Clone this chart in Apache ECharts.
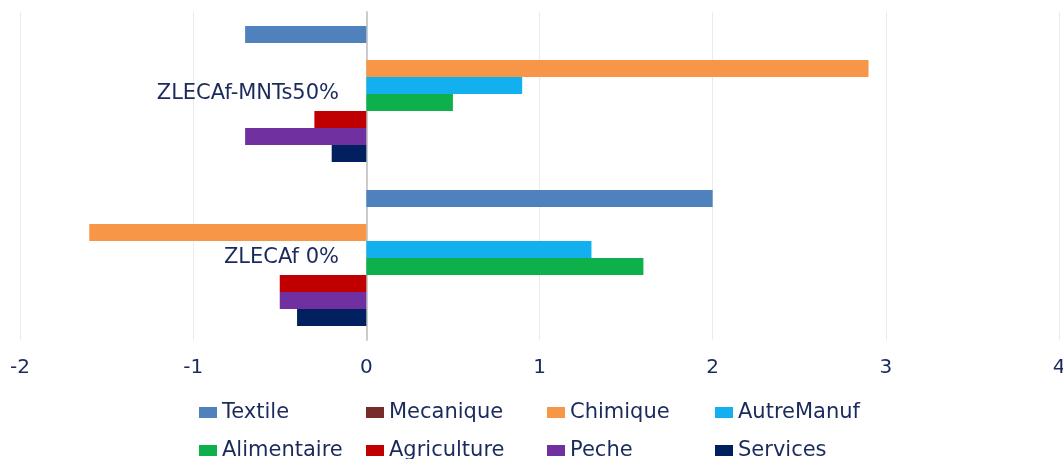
<!DOCTYPE html>
<html>
<head>
<meta charset="utf-8">
<script src="https://cdn.jsdelivr.net/npm/echarts@6/dist/echarts.min.js"></script>
<style>
html,body{margin:0;padding:0;background:#fff;}
#chart{width:1063px;height:459px;}
</style>
</head>
<body>
<div id="chart"></div>
<script>
// Categories (bottom to top, as ECharts category y axis draws them)
const categories = ['ZLECAf 0%', 'ZLECAf-MNTs50%'];
const seriesNames = ['Textile', 'Mecanique', 'Chimique', 'AutreManuf', 'Alimentaire', 'Agriculture', 'Peche', 'Services'];
// Values per series: [ZLECAf 0%, ZLECAf-MNTs50%]
const textile     = [2.0, -0.7];
const mecanique   = [0.0, 0.0];
const chimique    = [-1.6, 2.9];
const autreManuf  = [1.3, 0.9];
const alimentaire = [1.6, 0.5];
const agriculture = [-0.5, -0.3];
const peche       = [-0.5, -0.7];
const services    = [-0.4, -0.2];
const seriesValues = [textile, mecanique, chimique, autreManuf, alimentaire, agriculture, peche, services];
const colors = ['#4F81BD', '#772C2A', '#F79646', '#12B0EE', '#0DB04B', '#C00000', '#7030A0', '#002060'];
const xTicks = [-2, -1, 0, 1, 2, 3, 4];

const textColor = '#1B2A5C';
const fontFamily = '"DejaVu Sans", sans-serif';

const chart = echarts.init(document.getElementById('chart'), null, {renderer: 'canvas'});

const legendCols = [199, 366, 547, 715];
const legendRows = [402, 440];
const legends = seriesNames.map((name, i) => ({
  orient: 'horizontal',
  left: legendCols[i % 4],
  top: legendRows[Math.floor(i / 4)],
  padding: 0,
  itemWidth: 18,
  itemHeight: 11,
  itemGap: 5,
  icon: 'rect',
  data: [name],
  textStyle: {color: textColor, fontSize: 21, fontFamily: fontFamily, lineHeight: 21}
}));

chart.setOption({
  animation: false,
  backgroundColor: '#ffffff',
  color: colors,
  grid: {left: 20, right: 4, top: 12, bottom: 119, containLabel: false, outerBoundsMode: 'none'},
  legend: legends,
  xAxis: {
    type: 'value',
    min: xTicks[0],
    max: xTicks[xTicks.length - 1],
    interval: 1,
    axisLine: {show: false},
    axisTick: {show: false},
    splitLine: {show: true, lineStyle: {color: '#EBEBEB', width: 1}},
    axisLabel: {color: textColor, fontSize: 20, fontFamily: fontFamily, margin: 18}
  },
  yAxis: {
    type: 'category',
    data: categories,
    axisLine: {show: true, onZero: true, lineStyle: {color: '#CCCCCC', width: 2}},
    axisTick: {show: false},
    axisLabel: {color: textColor, fontSize: 21, fontFamily: fontFamily, margin: -319}
  },
  series: seriesNames.map((name, i) => ({
    name: name,
    type: 'bar',
    data: seriesValues[i],
    barGap: '0%',
    barCategoryGap: '17%',
    itemStyle: {color: colors[i]}
  }))
});
</script>
</body>
</html>
